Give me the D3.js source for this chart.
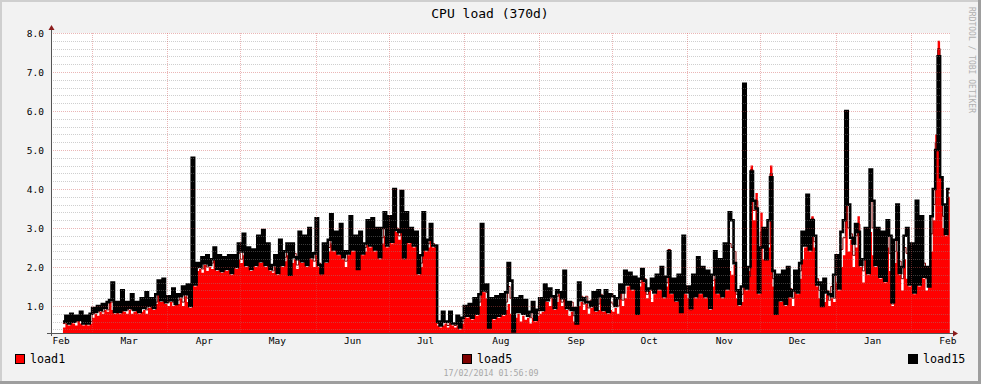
<!DOCTYPE html>
<html><head><meta charset="utf-8">
<script src="https://cdn.jsdelivr.net/npm/d3@7"></script>
<style>html,body{margin:0;padding:0;background:#f2f2f2;overflow:hidden}</style>
</head><body><svg id="c" width="981" height="384"></svg>
<script>
const chartTitle = "CPU load (370d)";
const stamp = "17/02/2014 01:56:09";
const watermark = "RRDTOOL / TOBI OETIKER";
const seriesNames = ["load1", "load5", "load15"];
const seriesColors = ["#ff0000", "#7f0000", "#000000"];
const firstDay = [2013, 1, 17];           // first daily sample (17 Feb 2013)
const rangeEnd = [2014, 1, 17, 1, 56, 9]; // end of graph
const rangeDays = 370;
const yMin = 0.308, yMax = 8;
const yLabels = [1, 2, 3, 4, 5, 6, 7, 8];
const yMinorStep = 0.2;
const xLabelFormat = "%b";

// daily values, Feb 2013 .. Feb 2014
const load1 = [
 0.45,0.55,0.5,0.6,0.55,0.5,0.6,0.55,0.5,0.6,0.5,0.55,
 0.7,0.8,0.75,0.85,0.8,0.9,0.85,1.1,0.9,0.8,0.85,0.8,0.9,0.85,0.8,0.9,0.8,0.85,0.9,0.8,0.85,0.9,0.8,0.95,1.0,0.9,1.05,1.35,1.1,1.3,1.05,
 1.0,1.1,1.0,1.15,1.05,1.2,1.0,1.25,1.1,0.95,2.5,1.5,1.9,1.95,1.85,2.05,1.9,2.0,1.95,2.3,1.9,2.0,1.85,2.05,1.9,2.0,1.8,2.0,1.95,2.2,
 2.1,2.3,2.0,2.2,1.9,2.1,2.0,2.3,2.1,2.4,2.0,2.2,1.9,1.85,2.0,1.8,2.2,2.0,2.15,2.3,1.9,2.1,2.2,1.95,2.3,2.1,2.4,2.0,2.5,2.2,2.0,
 2.3,2.0,1.8,2.3,2.1,2.4,2.6,2.4,2.5,2.3,2.6,2.2,2.0,2.3,2.5,2.4,2.6,2.2,2.5,2.3,2.4,2.7,2.5,2.6,2.4,2.7,2.2,2.6,2.8,2.5,
 2.8,2.6,3.1,2.9,2.7,3.0,2.2,2.9,2.6,2.8,2.5,2.7,1.8,2.0,2.6,2.4,2.5,2.9,2.5,2.5,0.5,0.45,0.5,0.55,0.45,0.6,0.5,0.45,0.5,0.4,0.55,
 0.8,0.7,0.9,0.65,0.85,0.75,1.0,1.8,1.35,1.2,0.9,0.8,0.65,0.9,0.7,0.85,0.75,0.9,1.05,0.8,0.95,0.7,0.8,0.6,0.75,0.65,0.7,0.55,0.7,0.6,0.75,
 0.8,0.85,1.5,1.1,1.0,1.2,0.9,1.1,1.3,1.0,1.85,0.9,0.75,0.85,0.6,0.8,1.0,1.1,0.9,1.05,0.8,0.95,1.1,0.85,0.9,1.2,0.85,1.0,0.8,0.9,
 0.85,0.95,0.8,1.5,1.0,1.2,1.5,1.7,1.4,1.6,1.3,1.5,1.85,1.6,1.2,1.4,1.1,1.3,1.5,1.4,1.7,1.2,1.5,2.45,1.3,1.5,1.1,1.4,1.2,1.6,1.3,
 1.2,0.9,1.4,1.2,1.5,1.3,1.6,1.2,1.4,0.9,1.5,1.7,1.3,1.5,1.2,1.6,1.4,1.9,1.8,2.05,1.2,1.0,1.1,1.6,1.4,1.9,4.6,3.2,3.9,1.3,
 3.4,2.2,2.9,2.5,4.6,1.5,1.2,1.4,1.1,1.3,1.0,1.4,1.2,1.0,1.5,1.3,1.7,2.2,2.5,3.8,2.4,3.3,2.5,1.5,1.2,1.3,1.1,1.3,1.0,1.2,1.1,
 1.6,1.4,2.0,2.3,3.7,2.4,2.7,2.0,2.5,3.3,2.0,1.6,2.2,1.8,2.9,2.3,2.0,2.9,1.7,2.2,1.6,2.5,1.9,1.0,2.1,2.4,1.8,1.4,2.2,1.7,1.5,
 1.6,1.3,1.9,1.5,2.2,1.7,1.4,1.9,2.4,3.2,5.4,7.8,4.3,3.0,2.8,3.8
];
const load5 = [
 0.55,0.6,0.6,0.65,0.6,0.6,0.6,0.65,0.6,0.65,0.55,0.6,
 0.8,0.85,0.85,0.9,0.85,0.95,0.9,1.1,1.1,0.9,0.95,1.0,0.95,0.9,0.9,1.0,0.9,0.95,0.95,0.9,1.0,1.05,0.9,1.0,1.05,1.0,1.1,1.4,1.2,1.45,1.1,
 1.1,1.2,1.1,1.25,1.15,1.3,1.1,1.35,1.2,1.0,3.2,1.7,2.0,2.05,1.95,2.15,2.0,2.05,2.1,2.4,2.0,2.1,1.95,2.1,2.0,2.1,1.9,2.1,2.05,2.35,
 2.2,2.5,2.1,2.3,2.0,2.2,2.1,2.5,2.2,2.6,2.1,2.35,2.0,1.9,2.1,1.85,2.4,2.2,2.25,2.4,1.85,2.3,2.35,2.05,2.5,2.35,2.55,2.1,2.7,2.3,2.15,
 2.7,2.1,1.8,2.4,2.2,2.5,2.9,2.6,2.6,2.6,2.7,2.3,2.15,2.4,2.8,2.6,2.7,2.05,2.6,2.45,2.5,2.9,2.6,2.9,2.6,2.8,2.3,2.75,3.0,2.65,
 3.0,2.7,3.4,3.0,2.8,3.3,2.2,3.1,2.7,2.9,2.6,2.8,1.85,2.1,2.9,2.5,2.6,3.0,2.6,2.5,0.55,0.55,0.65,0.6,0.5,0.7,0.55,0.5,0.6,0.45,0.6,
 0.9,0.85,0.95,0.8,1.0,0.85,1.1,2.3,1.4,1.35,0.7,1.0,0.85,1.05,0.85,1.0,0.9,1.1,1.5,1.2,0.6,0.9,0.9,0.9,0.8,0.85,0.8,0.7,0.85,0.75,0.8,
 1.0,0.95,1.5,1.2,1.2,1.25,1.0,1.25,1.35,1.1,1.85,1.1,0.9,1.1,0.75,0.7,1.3,1.25,1.05,1.25,0.95,1.15,1.2,1.1,1.05,1.3,0.95,1.2,1.0,1.1,
 1.05,1.15,1.0,1.4,1.15,1.55,1.6,1.75,1.5,1.65,1.0,1.6,1.9,1.7,1.3,1.45,1.4,1.4,1.65,1.65,1.85,1.5,1.6,2.45,1.55,1.6,1.35,1.6,1.0,2.8,1.4,
 1.35,0.9,1.6,1.4,1.9,1.5,1.8,1.35,1.65,1.1,1.65,2.0,1.45,1.85,1.45,2.1,1.6,2.6,2.5,2.4,1.3,1.1,1.3,4.0,1.7,1.75,4.5,3.45,3.7,1.7,
 2.9,2.6,3.0,2.6,4.4,1.7,1.0,1.6,1.35,1.6,1.25,1.7,1.45,1.2,1.7,1.55,1.9,2.55,2.9,3.8,2.7,3.25,2.65,1.7,1.4,1.15,1.4,1.4,1.15,1.5,1.2,
 1.95,1.65,2.45,2.75,4.8,3.0,2.85,2.3,2.8,3.1,2.2,1.9,2.6,2.2,3.7,3.0,2.25,2.95,1.95,2.55,2.0,2.85,2.35,1.05,2.4,3.0,2.15,1.7,2.5,2.35,1.85,
 2.1,1.75,2.8,1.95,2.75,2.1,1.7,1.7,2.85,3.6,5.2,7.6,4.3,3.3,3.15,3.9
];
const load15 = [
 0.6,0.75,0.55,0.8,0.6,0.75,0.65,0.85,0.55,0.75,0.55,0.8,
 0.95,0.85,1.0,0.9,1.05,0.95,1.1,1.15,1.6,0.85,1.1,0.85,1.4,0.9,1.1,0.95,1.3,0.9,1.1,0.85,1.2,0.95,1.35,1.0,1.2,0.95,1.3,1.65,1.15,1.7,1.1,
 1.25,1.15,1.45,1.05,1.3,1.25,1.5,1.3,1.55,1.0,4.8,1.55,2.1,2.0,2.25,2.1,2.3,2.05,2.2,2.5,1.95,2.3,1.9,2.25,1.95,2.3,1.85,2.3,2.0,2.6,
 2.4,2.85,2.05,2.5,1.95,2.45,2.05,2.8,2.15,2.95,2.05,2.6,1.95,2.05,2.3,1.85,2.7,2.05,2.4,2.6,1.8,2.6,2.25,2.2,2.9,2.15,2.8,2.05,3.0,2.25,2.35,
 3.25,2.05,1.85,2.6,2.15,2.7,3.35,2.45,2.9,2.35,3.1,2.25,2.4,2.35,3.3,2.45,2.8,1.95,2.9,2.35,2.6,3.2,2.55,3.25,2.45,3.0,2.25,3.0,3.4,2.55,
 3.3,2.65,4.0,2.95,2.9,3.95,2.25,3.4,2.65,3.0,2.55,2.9,1.85,2.3,3.4,2.45,2.7,3.1,2.55,2.55,0.6,0.5,0.85,0.6,0.6,0.85,0.55,0.55,0.75,0.45,0.7,
 1.0,0.75,1.05,0.7,1.2,0.8,1.3,3.1,1.4,1.55,0.45,1.2,0.7,1.25,0.75,1.3,0.8,1.35,2.1,1.65,0.35,1.2,0.85,1.25,0.8,1.15,0.75,0.85,1.1,0.65,0.9,
 1.2,0.9,1.55,1.15,1.45,1.25,0.95,1.4,1.35,1.2,1.9,0.95,1.1,0.9,0.95,0.55,1.6,1.15,1.2,1.1,1.1,1.0,1.35,0.9,1.4,1.25,0.9,1.4,0.85,1.3,
 1.25,1.0,1.2,1.55,1.35,1.9,1.55,1.85,1.45,1.75,0.8,1.7,1.95,1.65,1.4,1.45,1.7,1.35,1.8,1.45,2.0,1.25,1.75,2.4,1.35,1.7,1.15,1.8,0.85,2.8,1.35,
 1.5,0.95,1.8,1.25,2.25,1.35,2.0,1.25,1.9,0.95,1.8,2.4,1.35,2.2,1.25,2.6,1.45,3.4,3.2,2.1,1.4,1.05,1.5,6.7,1.45,2.0,4.45,3.7,3.5,1.35,
 2.5,3.0,2.2,3.2,4.3,1.9,0.8,1.8,1.15,1.9,1.05,2.0,1.25,1.4,1.9,1.35,2.1,2.9,2.55,3.85,2.45,3.2,2.8,1.55,1.6,1.0,1.7,1.35,1.3,1.25,1.8,
 2.3,1.45,2.9,3.2,6.0,3.6,2.75,2.6,3.1,2.9,2.05,2.2,3.0,1.85,4.5,3.7,2.05,3.0,1.75,2.9,1.65,3.2,2.8,1.1,2.7,3.6,1.85,2.0,2.8,3.0,1.55,
 2.6,1.35,3.7,1.55,3.3,1.75,2.0,1.5,3.3,4.0,5.0,7.4,4.3,3.6,2.85,4.0
];

const W = 981, H = 384;
const plot = {left: 51, right: 950, top: 33, bottom: 333};
const svg = d3.select("#c");
const font = "'DejaVu Sans Mono', monospace";

// background + 3D frame
svg.append("rect").attr("width", W).attr("height", H).attr("fill", "#f2f2f2");
svg.append("rect").attr("x", 0).attr("y", 0).attr("width", W).attr("height", 2).attr("fill", "#cfcfcf");
svg.append("rect").attr("x", 0).attr("y", 0).attr("width", 2).attr("height", H).attr("fill", "#cfcfcf");
svg.append("rect").attr("x", 0).attr("y", H - 3).attr("width", W).attr("height", 3).attr("fill", "#9e9e9e");
svg.append("rect").attr("x", W - 3).attr("y", 0).attr("width", 3).attr("height", H).attr("fill", "#9e9e9e");

const end = new Date(...rangeEnd);
const start = d3.timeDay.offset(end, -rangeDays);
const x = d3.scaleTime().domain([start, end]).range([plot.left, plot.right]);
const y = d3.scaleLinear().domain([yMin, yMax]).range([plot.bottom, plot.top]);

const d0 = new Date(...firstDay);
function toPoints(arr) {
  const pts = arr.map((v, i) => ({t: d3.timeDay.offset(d0, i), v}));
  pts.push({t: d3.timeDay.offset(d0, arr.length), v: arr[arr.length - 1]});
  return pts;
}

// canvas
svg.append("rect").attr("x", plot.left).attr("y", plot.top)
  .attr("width", plot.right - plot.left).attr("height", plot.bottom - plot.top).attr("fill", "#ffffff");

svg.append("clipPath").attr("id", "clip").append("rect")
  .attr("x", plot.left).attr("y", plot.top - 6).attr("width", plot.right - plot.left).attr("height", plot.bottom - plot.top + 6);

const g = svg.append("g").attr("clip-path", "url(#clip)");

const area = d3.area().curve(d3.curveStepAfter).x(d => x(d.t)).y0(y(yMin)).y1(d => y(d.v));
const line = d3.line().curve(d3.curveStepAfter).x(d => x(d.t)).y(d => y(d.v));

g.append("path").datum(toPoints(load1)).attr("d", area).attr("fill", seriesColors[0]);
g.append("path").datum(toPoints(load5)).attr("d", line).attr("fill", "none")
  .attr("stroke", seriesColors[1]).attr("stroke-width", 1);
g.append("path").datum(toPoints(load15)).attr("d", line).attr("fill", "none")
  .attr("stroke", seriesColors[2]).attr("stroke-width", 2.6).attr("stroke-linejoin", "miter");

// grid (drawn over the data, translucent, dotted)
const grid = svg.append("g");
const minorVals = d3.range(Math.ceil(yMin / yMinorStep) * yMinorStep, yMax + 1e-9, yMinorStep)
  .filter(v => Math.abs(v - Math.round(v)) > 1e-6);
grid.selectAll(".mi").data(minorVals).join("line")
  .attr("x1", plot.left).attr("x2", plot.right)
  .attr("y1", d => Math.round(y(d)) + 0.5).attr("y2", d => Math.round(y(d)) + 0.5)
  .attr("stroke", "rgba(140,140,140,0.42)").attr("stroke-dasharray", "1,1");
grid.selectAll(".ma").data(yLabels).join("line")
  .attr("x1", plot.left).attr("x2", plot.right)
  .attr("y1", d => Math.round(y(d)) + 0.5).attr("y2", d => Math.round(y(d)) + 0.5)
  .attr("stroke", "rgba(204,80,80,0.42)").attr("stroke-dasharray", "1,1");
const monthStarts = d3.timeMonth.range(d3.timeMonth.ceil(start), end);
grid.selectAll(".mv").data(monthStarts).join("line")
  .attr("x1", d => Math.round(x(d)) + 0.5).attr("x2", d => Math.round(x(d)) + 0.5)
  .attr("y1", plot.top).attr("y2", plot.bottom)
  .attr("stroke", "rgba(204,80,80,0.42)").attr("stroke-dasharray", "1,1");

// y labels
const yAxis = d3.axisLeft(y).tickValues(yLabels).tickFormat(d3.format(".1f")).tickSize(0).tickPadding(7);
const ya = svg.append("g").attr("transform", `translate(${plot.left},0)`).call(yAxis);
ya.select(".domain").remove();
ya.selectAll("text").attr("font-family", font).attr("font-size", "9.5px").attr("fill", "#000");

// x labels at mid-month
const labelDates = d3.timeMonth.range(d3.timeMonth.floor(start), end).map(m => d3.timeDay.offset(m, 15));
const xAxis = d3.axisBottom(x).tickValues(labelDates).tickFormat(d3.timeFormat(xLabelFormat)).tickSize(0).tickPadding(4);
const xa = svg.append("g").attr("transform", `translate(0,${plot.bottom})`).call(xAxis);
xa.select(".domain").remove();
xa.selectAll("text").attr("font-family", font).attr("font-size", "9.5px").attr("fill", "#000");

// axes lines + arrows
svg.append("line").attr("x1", plot.left - 4).attr("x2", plot.right + 4)
  .attr("y1", plot.bottom + 0.5).attr("y2", plot.bottom + 0.5).attr("stroke", "#555").attr("stroke-width", 1);
svg.append("line").attr("x1", plot.left + 0.5).attr("x2", plot.left + 0.5)
  .attr("y1", plot.bottom + 3).attr("y2", plot.top - 4).attr("stroke", "#555").attr("stroke-width", 1);
const arrowCol = "#8b1c1c";
svg.append("path").attr("d", `M${plot.right + 3},${plot.bottom - 2.5}L${plot.right + 8},${plot.bottom + 0.5}L${plot.right + 3},${plot.bottom + 3.5}Z`).attr("fill", arrowCol);
svg.append("path").attr("d", `M${plot.left - 2.5},${plot.top - 3}L${plot.left + 0.5},${plot.top - 8}L${plot.left + 3.5},${plot.top - 3}Z`).attr("fill", arrowCol);

// title
svg.append("text").attr("x", 490).attr("y", 18).attr("text-anchor", "middle")
  .attr("font-family", font).attr("font-size", "13px").attr("fill", "#000").text(chartTitle);

// watermark
svg.append("text").attr("transform", "translate(969,7) rotate(90)")
  .attr("font-family", font).attr("font-size", "8px").attr("fill", "#b0b0b0").text(watermark);

// legend
const legendX = [15, 462, 908];
seriesNames.forEach((name, i) => {
  svg.append("rect").attr("x", legendX[i] + 0.5).attr("y", 354.5).attr("width", 9).attr("height", 9)
    .attr("fill", seriesColors[i]).attr("stroke", "#000").attr("stroke-width", 1);
  svg.append("text").attr("x", legendX[i] + 15).attr("y", 363)
    .attr("font-family", font).attr("font-size", "11.7px").attr("fill", "#000").text(name);
});

// timestamp
svg.append("text").attr("x", 491).attr("y", 376).attr("text-anchor", "middle")
  .attr("font-family", font).attr("font-size", "8.3px").attr("fill", "#a8a8a8").text(stamp);
</script></body></html>
